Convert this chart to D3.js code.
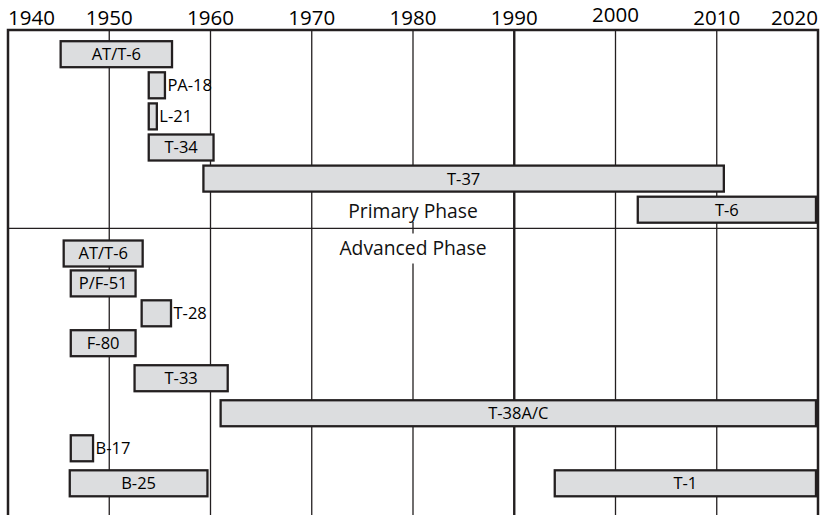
<!DOCTYPE html>
<html><head><meta charset="utf-8">
<script src="https://cdn.jsdelivr.net/npm/d3@7"></script>
<style>
html,body{margin:0;padding:0;background:#fff;}
svg{display:block;font-family:"Open Sans",sans-serif;}
</style></head>
<body><div id="chart"></div>
<script>
// ---- data ----
const yearTicks = [1940, 1950, 1960, 1970, 1980, 1990, 2000, 2010, 2020];
const phaseNames = ["Primary Phase", "Advanced Phase"];
const aircraft = ["AT/T-6", "PA-18", "L-21", "T-34", "T-37", "T-6",
                  "AT/T-6", "P/F-51", "T-28", "F-80", "T-33", "T-38A/C", "B-17", "B-25", "T-1"];
const startYear = [1945.2, 1953.9, 1953.9, 1953.9, 1959.3, 2002.2,
                   1945.5, 1946.2, 1953.2, 1946.2, 1952.5, 1961.0, 1946.2, 1946.1, 1994.0];
const endYear   = [1956.2, 1955.5, 1954.7, 1960.3, 2010.7, 2019.8,
                   1953.3, 1952.6, 1956.1, 1952.6, 1961.7, 2019.8, 1948.4, 1959.7, 2019.8];
const rowIndex  = [0, 1, 2, 3, 4, 5, 6, 7, 8, 9, 10, 11, 12, 13, 13];
const labelSide = ["in", "out", "out", "in", "in", "in",
                   "in", "in", "out", "in", "in", "in", "out", "in", "in"];

const bars = aircraft.map((name, i) => ({
  name, start: startYear[i], end: endYear[i], row: rowIndex[i], side: labelSide[i]
}));

// ---- layout ----
const W = 823, H = 515;
const mLeft = 8, mRight = 818, mTop = 30;
const dark = "#231f20";

const svg = d3.select("#chart").append("svg").attr("width", W).attr("height", H);

const x = d3.scaleLinear().domain([1940, 2020]).range([mLeft, mRight]);
const y = d3.scaleLinear().domain([0, 5, 6, 9, 13]).range([54.2, 209.7, 253.5, 343.2, 483.3]);
const barH = 26;

// gridlines
svg.append("g").selectAll("line")
  .data(yearTicks.filter(t => t > 1940 && t < 2020))
  .join("line")
  .attr("x1", d => x(d)).attr("x2", d => x(d))
  .attr("y1", mTop).attr("y2", H)
  .attr("stroke", dark)
  .attr("stroke-width", d => d === 1990 ? 2.4 : 1.3);

// divider between phases
const divY = 228.3;
svg.append("line").attr("x1", mLeft).attr("x2", mRight).attr("y1", divY).attr("y2", divY)
  .attr("stroke", dark).attr("stroke-width", 1.3);

// frame (left, top, right)
svg.append("path")
  .attr("d", `M${mLeft},${H} L${mLeft},${mTop} L${mRight},${mTop} L${mRight},${H}`)
  .attr("fill", "none").attr("stroke", dark).attr("stroke-width", 2.5);

// tick labels
svg.append("g").selectAll("text")
  .data(yearTicks).join("text")
  .attr("x", d => x(d))
  .attr("y", d => d === 2000 ? 22 : 25)
  .attr("text-anchor", (d, i) => i === 0 ? "start" : (i === yearTicks.length - 1 ? "end" : "middle"))
  .attr("font-size", 20.5)
  .attr("fill", "#000")
  .text(d => d);

// phase labels with white background
const phaseBase = [218, 254.5];
const phaseG = svg.append("g");
phaseNames.forEach((p, i) => {
  const bgRect = phaseG.append("rect").attr("fill", "#fff");
  const t = phaseG.append("text")
    .attr("x", x(1980)).attr("y", phaseBase[i])
    .attr("text-anchor", "middle").attr("font-size", 19.3).attr("fill", "#111")
    .text(p);
  const bb = t.node().getBBox();
  bgRect.attr("x", bb.x - 2).attr("y", i === 0 ? bb.y - 5 : bb.y)
    .attr("width", bb.width + 4).attr("height", bb.height + 3);
});

// bars
const g = svg.append("g");
g.selectAll("rect").data(bars).join("rect")
  .attr("x", d => x(d.start))
  .attr("y", d => y(d.row) - barH / 2)
  .attr("width", d => x(d.end) - x(d.start))
  .attr("height", barH)
  .attr("fill", "#dcdddf")
  .attr("stroke", dark)
  .attr("stroke-width", 2.3);

g.selectAll("text").data(bars).join("text")
  .attr("x", d => d.side === "in" ? (x(d.start) + x(d.end)) / 2 : x(d.end) + 2.5)
  .attr("y", d => y(d.row))
  .attr("dy", "0.36em")
  .attr("text-anchor", d => d.side === "in" ? "middle" : "start")
  .attr("font-size", 16.5)
  .attr("fill", "#000")
  .text(d => d.name);
</script>
</body></html>
